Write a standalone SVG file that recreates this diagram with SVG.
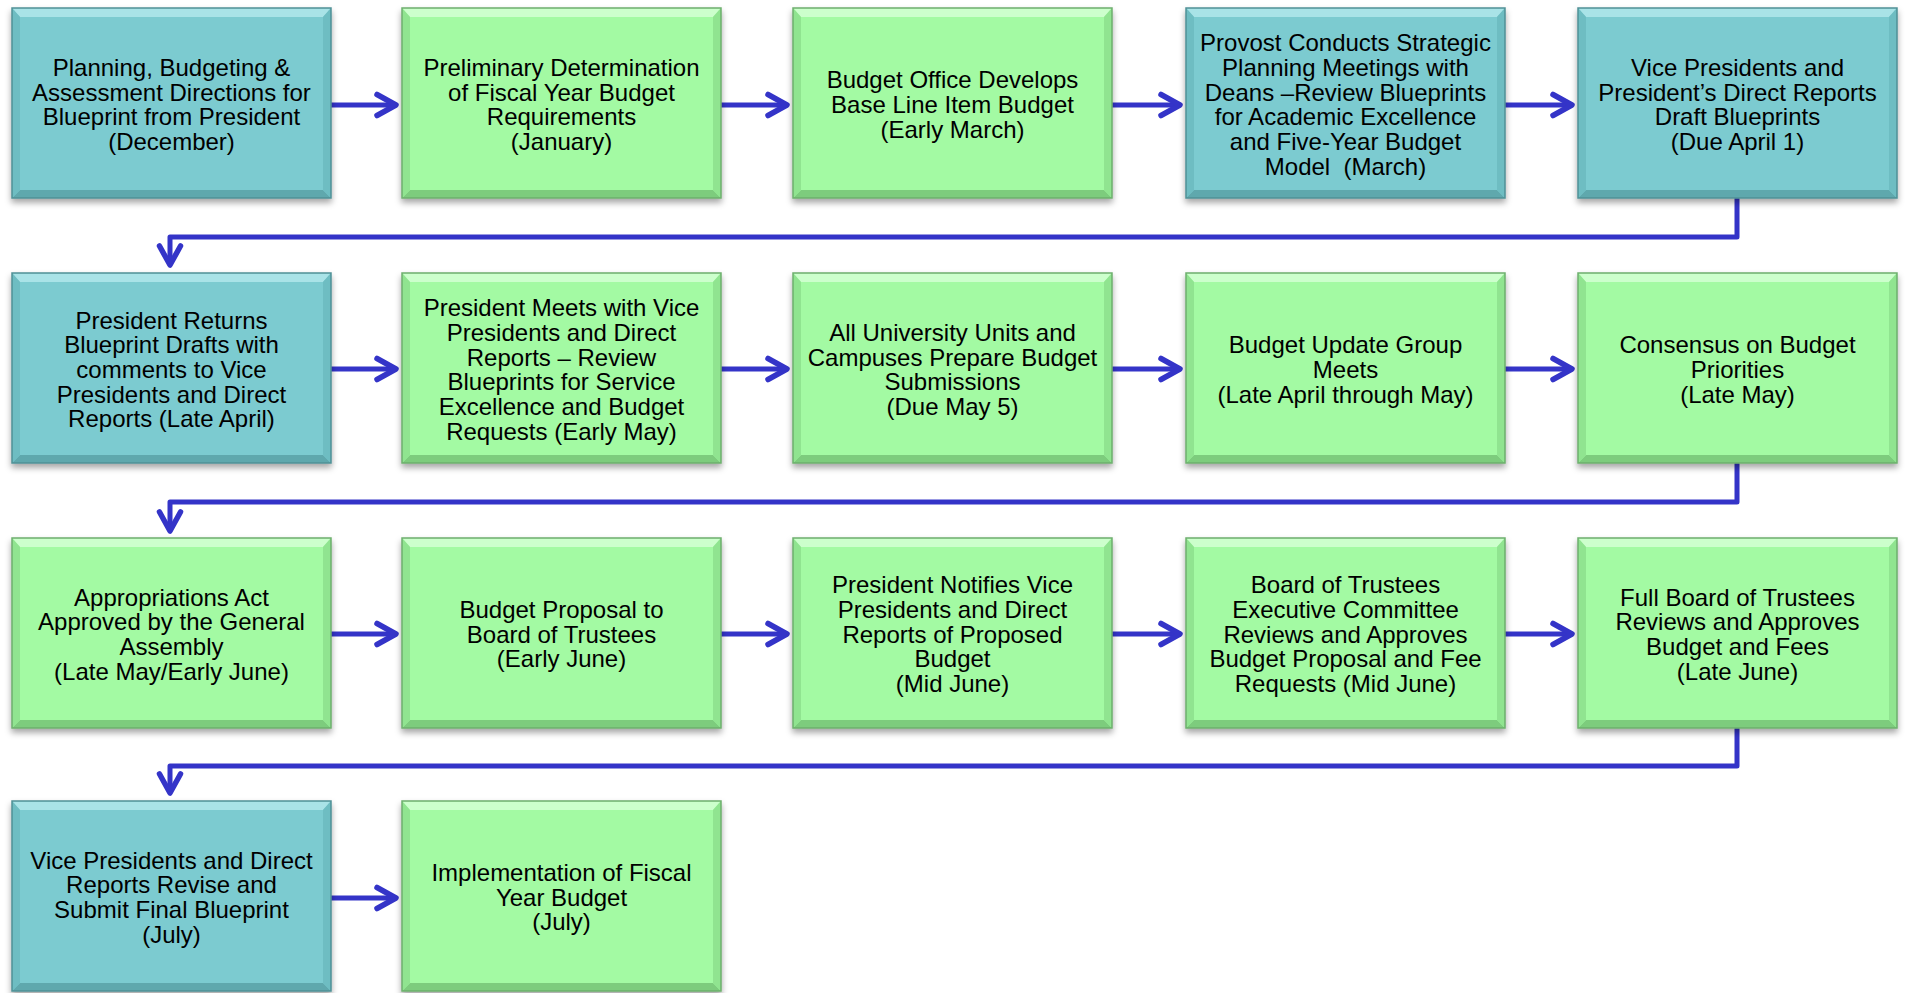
<svg xmlns="http://www.w3.org/2000/svg" xmlns:xlink="http://www.w3.org/1999/xlink" width="1905" height="993" viewBox="0 0 1905 993">
<style>
  .t { font-family: "Liberation Sans", Arial, sans-serif; font-size: 24px; fill: #000; text-anchor: middle; }
  .conn { fill: none; stroke: #3434C8; stroke-width: 5; stroke-linejoin: round; }
  .tealFace { fill: #7BCBD0; }
  .tealTop { fill: #A9E3E7; }
  .tealBot { fill: #5FA8AD; }
  .tealSide { fill: #6EBDC2; }
  .tealEdge { fill: none; stroke: #4F9196; stroke-width: 1.5; }
  .greenFace { fill: #A3FAA3; }
  .greenTop { fill: #CCFFCC; }
  .greenBot { fill: #7DCC7D; }
  .greenSide { fill: #90E490; }
  .greenEdge { fill: none; stroke: #6DAF6D; stroke-width: 1.5; }
</style>
<defs>
  <filter id="shadow" x="-10%" y="-10%" width="120%" height="125%">
    <feDropShadow dx="0" dy="4" stdDeviation="3" flood-color="#000" flood-opacity="0.35"/>
  </filter>
  <marker id="arrow" viewBox="0 0 24 24" refX="21" refY="12" markerWidth="24" markerHeight="24" markerUnits="userSpaceOnUse" orient="auto" overflow="visible">
    <path d="M2,1.5 L21,12 L2,22.5" fill="none" stroke="#3434C8" stroke-width="5.5" stroke-linecap="round" stroke-linejoin="round"/>
  </marker>
  <g id="tealBox" filter="url(#shadow)">
    <rect width="319" height="190" class="tealFace"/>
    <polygon points="0,0 319,0 311,9 8,9" class="tealTop"/>
    <polygon points="0,190 319,190 311,182 8,182" class="tealBot"/>
    <polygon points="0,0 8,9 8,182 0,190" class="tealSide"/>
    <polygon points="319,0 311,9 311,182 319,190" class="tealSide"/>
    <rect width="319" height="190" class="tealEdge"/>
  </g>
  <g id="greenBox" filter="url(#shadow)">
    <rect width="319" height="190" class="greenFace"/>
    <polygon points="0,0 319,0 311,9 8,9" class="greenTop"/>
    <polygon points="0,190 319,190 311,182 8,182" class="greenBot"/>
    <polygon points="0,0 8,9 8,182 0,190" class="greenSide"/>
    <polygon points="319,0 311,9 311,182 319,190" class="greenSide"/>
    <rect width="319" height="190" class="greenEdge"/>
  </g>
</defs>
<rect width="1905" height="993" fill="#FFFFFF"/>

<g id="connectors">
  <!-- row 1 -->
  <line x1="331" y1="105" x2="396" y2="105" class="conn" marker-end="url(#arrow)"/>
  <line x1="721" y1="105" x2="787" y2="105" class="conn" marker-end="url(#arrow)"/>
  <line x1="1112" y1="105" x2="1180" y2="105" class="conn" marker-end="url(#arrow)"/>
  <line x1="1505" y1="105" x2="1572" y2="105" class="conn" marker-end="url(#arrow)"/>
  <polyline points="1737,198 1737,237 170,237 170,265" class="conn" marker-end="url(#arrow)"/>
  <!-- row 2 -->
  <line x1="331" y1="369" x2="396" y2="369" class="conn" marker-end="url(#arrow)"/>
  <line x1="721" y1="369" x2="787" y2="369" class="conn" marker-end="url(#arrow)"/>
  <line x1="1112" y1="369" x2="1180" y2="369" class="conn" marker-end="url(#arrow)"/>
  <line x1="1505" y1="369" x2="1572" y2="369" class="conn" marker-end="url(#arrow)"/>
  <polyline points="1737,463 1737,502 170,502 170,531" class="conn" marker-end="url(#arrow)"/>
  <!-- row 3 -->
  <line x1="331" y1="634" x2="396" y2="634" class="conn" marker-end="url(#arrow)"/>
  <line x1="721" y1="634" x2="787" y2="634" class="conn" marker-end="url(#arrow)"/>
  <line x1="1112" y1="634" x2="1180" y2="634" class="conn" marker-end="url(#arrow)"/>
  <line x1="1505" y1="634" x2="1572" y2="634" class="conn" marker-end="url(#arrow)"/>
  <polyline points="1737,728 1737,766 170,766 170,793" class="conn" marker-end="url(#arrow)"/>
  <!-- row 4 -->
  <line x1="331" y1="898" x2="396" y2="898" class="conn" marker-end="url(#arrow)"/>
</g>

<!-- Row 1 -->
<g id="n1">
  <use xlink:href="#tealBox" href="#tealBox" x="12" y="8"/>
  <text class="t" x="171.5"><tspan x="171.5" y="76">Planning, Budgeting &amp;</tspan><tspan x="171.5" y="100.7">Assessment Directions for</tspan><tspan x="171.5" y="125.4">Blueprint from President</tspan><tspan x="171.5" y="150.1">(December)</tspan></text>
</g>
<g id="n2">
  <use xlink:href="#greenBox" href="#greenBox" x="402" y="8"/>
  <text class="t"><tspan x="561.5" y="76">Preliminary Determination</tspan><tspan x="561.5" y="100.7">of Fiscal Year Budget</tspan><tspan x="561.5" y="125.4">Requirements</tspan><tspan x="561.5" y="150.1">(January)</tspan></text>
</g>
<g id="n3">
  <use xlink:href="#greenBox" href="#greenBox" x="793" y="8"/>
  <text class="t"><tspan x="952.5" y="88.3">Budget Office Develops</tspan><tspan x="952.5" y="113">Base Line Item Budget</tspan><tspan x="952.5" y="137.7">(Early March)</tspan></text>
</g>
<g id="n4">
  <use xlink:href="#tealBox" href="#tealBox" x="1186" y="8"/>
  <text class="t"><tspan x="1345.5" y="51.3">Provost Conducts Strategic</tspan><tspan x="1345.5" y="76">Planning Meetings with</tspan><tspan x="1345.5" y="100.7">Deans –Review Blueprints</tspan><tspan x="1345.5" y="125.4">for Academic Excellence</tspan><tspan x="1345.5" y="150.1">and Five-Year Budget</tspan><tspan x="1345.5" y="174.8" xml:space="preserve">Model  (March)</tspan></text>
</g>
<g id="n5">
  <use xlink:href="#tealBox" href="#tealBox" x="1578" y="8"/>
  <text class="t"><tspan x="1737.5" y="76">Vice Presidents and</tspan><tspan x="1737.5" y="100.7">President’s Direct Reports</tspan><tspan x="1737.5" y="125.4">Draft Blueprints</tspan><tspan x="1737.5" y="150.1">(Due April 1)</tspan></text>
</g>

<!-- Row 2 -->
<g id="n6">
  <use xlink:href="#tealBox" href="#tealBox" x="12" y="273"/>
  <text class="t"><tspan x="171.5" y="328.6">President Returns</tspan><tspan x="171.5" y="353.3">Blueprint Drafts with</tspan><tspan x="171.5" y="378">comments to Vice</tspan><tspan x="171.5" y="402.7">Presidents and Direct</tspan><tspan x="171.5" y="427.4">Reports (Late April)</tspan></text>
</g>
<g id="n7">
  <use xlink:href="#greenBox" href="#greenBox" x="402" y="273"/>
  <text class="t"><tspan x="561.5" y="316.3">President Meets with Vice</tspan><tspan x="561.5" y="341">Presidents and Direct</tspan><tspan x="561.5" y="365.7">Reports – Review</tspan><tspan x="561.5" y="390.4">Blueprints for Service</tspan><tspan x="561.5" y="415.1">Excellence and Budget</tspan><tspan x="561.5" y="439.8">Requests (Early May)</tspan></text>
</g>
<g id="n8">
  <use xlink:href="#greenBox" href="#greenBox" x="793" y="273"/>
  <text class="t"><tspan x="952.5" y="341">All University Units and</tspan><tspan x="952.5" y="365.7">Campuses Prepare Budget</tspan><tspan x="952.5" y="390.4">Submissions</tspan><tspan x="952.5" y="415.1">(Due May 5)</tspan></text>
</g>
<g id="n9">
  <use xlink:href="#greenBox" href="#greenBox" x="1186" y="273"/>
  <text class="t"><tspan x="1345.5" y="353.3">Budget Update Group</tspan><tspan x="1345.5" y="378">Meets</tspan><tspan x="1345.5" y="402.7">(Late April through May)</tspan></text>
</g>
<g id="n10">
  <use xlink:href="#greenBox" href="#greenBox" x="1578" y="273"/>
  <text class="t"><tspan x="1737.5" y="353.3">Consensus on Budget</tspan><tspan x="1737.5" y="378">Priorities</tspan><tspan x="1737.5" y="402.7">(Late May)</tspan></text>
</g>

<!-- Row 3 -->
<g id="n11">
  <use xlink:href="#greenBox" href="#greenBox" x="12" y="538"/>
  <text class="t"><tspan x="171.5" y="605.6">Appropriations Act</tspan><tspan x="171.5" y="630.3">Approved by the General</tspan><tspan x="171.5" y="655">Assembly</tspan><tspan x="171.5" y="679.7">(Late May/Early June)</tspan></text>
</g>
<g id="n12">
  <use xlink:href="#greenBox" href="#greenBox" x="402" y="538"/>
  <text class="t"><tspan x="561.5" y="617.9">Budget Proposal to</tspan><tspan x="561.5" y="642.6">Board of Trustees</tspan><tspan x="561.5" y="667.3">(Early June)</tspan></text>
</g>
<g id="n13">
  <use xlink:href="#greenBox" href="#greenBox" x="793" y="538"/>
  <text class="t"><tspan x="952.5" y="593.3">President Notifies Vice</tspan><tspan x="952.5" y="618">Presidents and Direct</tspan><tspan x="952.5" y="642.7">Reports of Proposed</tspan><tspan x="952.5" y="667.4">Budget</tspan><tspan x="952.5" y="692.1">(Mid June)</tspan></text>
</g>
<g id="n14">
  <use xlink:href="#greenBox" href="#greenBox" x="1186" y="538"/>
  <text class="t"><tspan x="1345.5" y="593.3">Board of Trustees</tspan><tspan x="1345.5" y="618">Executive Committee</tspan><tspan x="1345.5" y="642.7">Reviews and Approves</tspan><tspan x="1345.5" y="667.4">Budget Proposal and Fee</tspan><tspan x="1345.5" y="692.1">Requests (Mid June)</tspan></text>
</g>
<g id="n15">
  <use xlink:href="#greenBox" href="#greenBox" x="1578" y="538"/>
  <text class="t"><tspan x="1737.5" y="605.6">Full Board of Trustees</tspan><tspan x="1737.5" y="630.3">Reviews and Approves</tspan><tspan x="1737.5" y="655">Budget and Fees</tspan><tspan x="1737.5" y="679.7">(Late June)</tspan></text>
</g>

<!-- Row 4 -->
<g id="n16">
  <use xlink:href="#tealBox" href="#tealBox" x="12" y="801"/>
  <text class="t"><tspan x="171.5" y="868.6">Vice Presidents and Direct</tspan><tspan x="171.5" y="893.3">Reports Revise and</tspan><tspan x="171.5" y="918">Submit Final Blueprint</tspan><tspan x="171.5" y="942.7">(July)</tspan></text>
</g>
<g id="n17">
  <use xlink:href="#greenBox" href="#greenBox" x="402" y="801"/>
  <text class="t"><tspan x="561.5" y="880.9">Implementation of Fiscal</tspan><tspan x="561.5" y="905.6">Year Budget</tspan><tspan x="561.5" y="930.3">(July)</tspan></text>
</g>
</svg>
